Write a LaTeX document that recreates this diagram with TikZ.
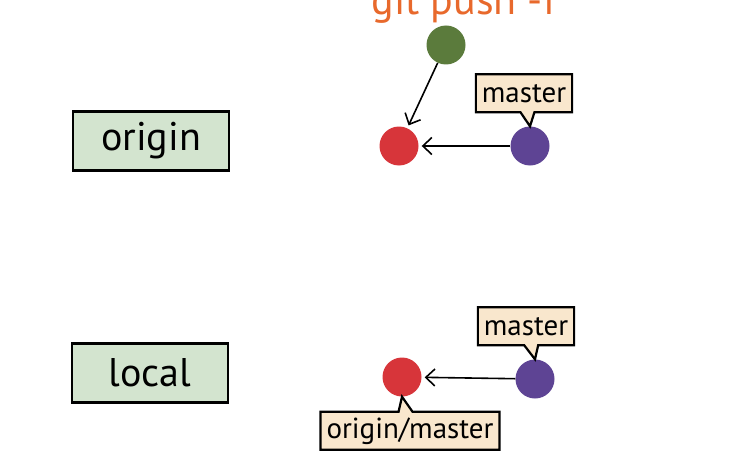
\documentclass[tikz,border=0pt]{standalone}
\usepackage{fontspec}
\setmainfont{PT Sans}
\usetikzlibrary{shapes.callouts, arrows.meta, positioning}
\definecolor{repogreen}{HTML}{D3E4CF}
\definecolor{labelbeige}{HTML}{F9E7CD}
\definecolor{commitgreen}{HTML}{5B7B3C}
\definecolor{commitred}{HTML}{D7353A}
\definecolor{commitpurple}{HTML}{5E4494}
\definecolor{titleorange}{HTML}{E8692C}
\tikzstyle{repo} = [rectangle, minimum width=156pt, minimum height=59pt, fill=repogreen, draw=black, line width=2.8pt, font=\fontsize{40}{42}\selectfont]
\tikzstyle{commit} = [circle, minimum size=39pt, inner sep=0pt]
\tikzstyle{branch} = [rectangle callout, fill=labelbeige, draw=black, line width=2.2pt, minimum height=38pt, inner xsep=6pt, callout pointer width=14pt, font=\fontsize{29}{30}\selectfont]
\tikzstyle{arrow} = [line width=1.6pt, -{Straight Barb[length=9pt,width=17pt]}, shorten >=3pt]

\begin{document}
\begin{tikzpicture}[x=1pt, y=-1pt]
      \useasboundingbox (0,0) rectangle (743,468);
      \node (title)   [anchor=base, text=titleorange, font=\fontsize{42}{42}\selectfont] at (464,15) {git push -f};

      \node (origin)  [repo] at (151,141) {origin};
      \node (local)   [repo] at (150,373) {local};

      % remote repository
      \node (c1)      [commit, fill=commitgreen]  at (446,45)  {};
      \node (c0)      [commit, fill=commitred]    at (399,146) {};
      \node (c2)      [commit, fill=commitpurple] at (530,146) {};
      \node (master)  [branch, above=13pt of c2, xshift=-6pt, callout absolute pointer={(c2.north)}] {master};

      % local repository
      \node (lc0)     [commit, fill=commitred]    at (402,377) {};
      \node (lc2)     [commit, fill=commitpurple] at (535,379) {};
      \node (lmaster) [branch, above=13pt of lc2, xshift=-9pt, callout absolute pointer={(lc2.north)}] {master};
      \node (lorigin) [branch, below=14pt of lc0, xshift=8pt, callout absolute pointer={(lc0.south)}] {origin/master};

      \draw [arrow] (c1)  -- (c0);
      \draw [arrow] (c2)  -- (c0);
      \draw [arrow] (lc2) -- (lc0);
    \end{tikzpicture}
\end{document}
